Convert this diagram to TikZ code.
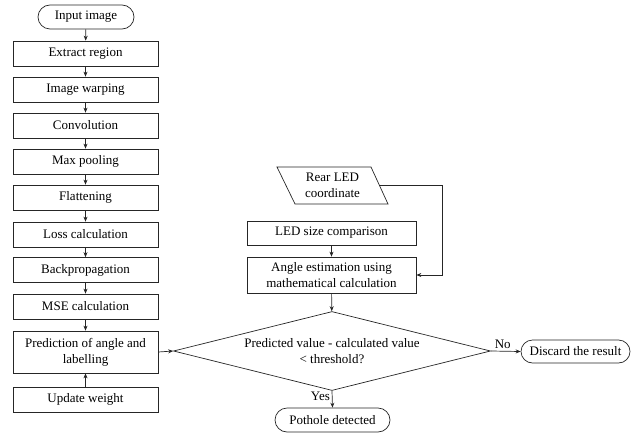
\documentclass[tikz,border=0pt]{standalone}
\usepackage{fontspec}
\setmainfont{Liberation Serif}
\usetikzlibrary{shapes.geometric,arrows.meta}
\begin{document}
\begin{tikzpicture}[x=1pt,y=-1pt,
  every node/.style={font=\fontsize{13}{16}\selectfont},
  box/.style={draw, rectangle, minimum width=145pt, minimum height=25pt, inner sep=2pt, align=center},
  term/.style={draw, rectangle, rounded corners=12pt, minimum height=24pt, inner sep=2pt},
  arr/.style={-{Stealth[length=5pt,width=4pt]}},
  lbl/.style={font=\fontsize{13}{16}\selectfont, inner sep=2pt},
  line width=0.7pt, draw=black!85]
\useasboundingbox (0,0) rectangle (644,433);
% left column
\node[term, minimum width=96pt] (in) at (86,17) {Input image};
\node[box] (ext) at (85.5,53.5) {Extract region};
\node[box] (warp) at (85.5,89.5) {Image warping};
\node[box] (conv) at (85.5,125.5) {Convolution};
\node[box] (pool) at (85.5,161.5) {Max pooling};
\node[box] (flat) at (85.5,197.5) {Flattening};
\node[box] (loss) at (85.5,234.5) {Loss calculation};
\node[box] (back) at (85.5,270) {Backpropagation};
\node[box] (mse) at (85.5,306.5) {MSE calculation};
\node[box, minimum height=42pt] (pred) at (85.5,352) {Prediction of angle and\\labelling};
\node[box] (upd) at (85.5,399.5) {Update weight};
% right column
\node[align=center, inner sep=0pt] (rear) at (332.5,185.5) {Rear LED\\coordinate};
\draw (277,167) -- (371,167) -- (388,204) -- (295,204) -- cycle;
\coordinate (rearR) at (379.5,185.5);
\node[box, minimum width=169pt, minimum height=24pt] (led) at (331.5,233) {LED size comparison};
\node[box, minimum width=169pt, minimum height=36pt] (ang) at (331.5,275) {Angle estimation using\\mathematical calculation};
\node[diamond, draw, aspect=4, inner sep=0pt, minimum width=317pt, minimum height=79pt, align=center] (dec) at (332,351) {Predicted value - calculated value\\< threshold?};
\node[term, minimum width=109pt, minimum height=23pt, rounded corners=11.5pt] (disc) at (575.5,351.5) {Discard the result};
\node[term, minimum width=115pt] (pot) at (332.5,420) {Pothole detected};
% connectors
\draw[arr] (in) -- (ext);
\draw[arr] (ext) -- (warp);
\draw[arr] (warp) -- (conv);
\draw[arr] (conv) -- (pool);
\draw[arr] (pool) -- (flat);
\draw[arr] (flat) -- (loss);
\draw[arr] (loss) -- (back);
\draw[arr] (back) -- (mse);
\draw[arr] (mse) -- (pred);
\draw[arr] (upd) -- (pred);
\draw[arr] (pred.east) -- (dec.west);
\draw[arr] (led) -- (ang);
\draw[arr] (rearR) -- (442,185.5) |- (ang.east);
\draw[arr] (ang) -- (dec);
\draw[arr] (dec.east) -- node[lbl, above, pos=0.4] {No} (disc.west);
\draw[arr] (dec.south) -- node[lbl, left, pos=0.35] {Yes} (pot.north);
\end{tikzpicture}
\end{document}
